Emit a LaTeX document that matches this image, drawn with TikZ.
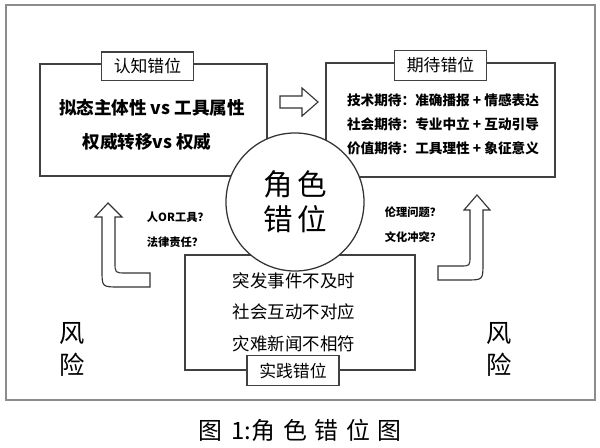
\documentclass[tikz,border=0pt]{standalone}
\usepackage{fontspec}
\setmainfont{Noto Sans CJK SC}
\usetikzlibrary{positioning}
\begin{document}
\begin{tikzpicture}[x=0.025cm,y=-0.025cm,
  box/.style={draw=black!75,line width=0.9pt},
  tag/.style={draw=black!75,line width=0.8pt,fill=white,minimum width=2.3cm,minimum height=0.72cm,inner sep=0pt,font=\fontsize{12}{14}\selectfont},
  blockarrow/.style={draw=black!80,line width=0.8pt,fill=white,line join=miter}]
  \useasboundingbox (0,0) rectangle (600,448);
  % Outer frame
  \draw[black!45,line width=1.2pt] (6,5) rectangle (595,400);
  % Three boxes
  \node[box,minimum width=5.675cm,minimum height=2.8cm] (cogbox) at (153.5,120) {};
  \node[box,minimum width=5.725cm,minimum height=2.85cm] (expbox) at (440.5,120) {};
  \node[box,minimum width=5.75cm,minimum height=2.875cm] (pracbox) at (300,312.5) {};
  % Box texts
  \node[font=\fontsize{12.5}{15}\selectfont\bfseries] (cogone) at (152,108) {拟态主体性 vs 工具属性};
  \node[font=\fontsize{12.5}{15}\selectfont\bfseries] (cogtwo) at (147,142) {权威转移vs 权威};
  \node[align=left,font=\fontsize{9.7}{17}\selectfont\bfseries] (exptext) at (443,124)
    {技术期待：准确播报 + 情感表达\\社会期待：专业中立 + 互动引导\\价值期待：工具理性 + 象征意义};
  \node[align=center,font=\fontsize{12.4}{22.4}\selectfont] (practext) at (294,312)
    {突发事件不及时\\社会互动不对应\\灾难新闻不相符};
  % Centre circle
  \node[draw=black!80,line width=0.9pt,fill=white,circle,minimum size=3.45cm,align=center,
    font=\fontsize{21}{25}\selectfont] (role) at (295,202) {角\,色\\错\,位};
  % Box titles
  \node[tag] (cogtag) at ([xshift=-0.15cm,yshift=-0.075cm]cogbox.north) {认知错位};
  \node[tag,minimum height=0.75cm] (exptag) at ([yshift=-0.075cm]expbox.north) {期待错位};
  \node[tag,minimum height=0.75cm] (practag) at ([xshift=-0.175cm]pracbox.south) {实践错位};
  % Hollow arrow between top boxes
  \draw[blockarrow] (280,96) -- (302,96) -- (302,88) -- (318,102) -- (302,116) -- (302,108) -- (280,108) -- cycle;
  % Bent arrows
  \draw[blockarrow] (102,217) -- (102,270) .. controls (102,287) .. (119,287) -- (150,287) -- (150,273)
    -- (126,273) .. controls (115,273) .. (115,262) -- (115,217) -- (122,217) -- (108,203) -- (95,217) -- cycle;
  \draw[blockarrow] (470,210) -- (470,256) .. controls (470,266) .. (460,266) -- (438,266) -- (438,280)
    -- (466,280) .. controls (483,280) .. (483,263) -- (483,210) -- (490,210) -- (477,195) -- (464,210) -- cycle;
  % Questions
  \node[anchor=west,font=\fontsize{8}{10}\selectfont\bfseries] (qtool) at (142,217) {人OR工具？};
  \node[anchor=west,font=\fontsize{8}{10}\selectfont\bfseries] (qlaw) at (142,242) {法律责任？};
  \node[anchor=west,font=\fontsize{8}{10}\selectfont\bfseries] (qethic) at (380,212) {伦理问题？};
  \node[anchor=west,font=\fontsize{8}{10}\selectfont\bfseries] (qculture) at (380,237) {文化冲突？};
  % Risk labels
  \node[align=center,font=\fontsize{18}{22.7}\selectfont] (riskl) at (72,349) {风\\险};
  \node[align=center,font=\fontsize{18}{22.7}\selectfont] (riskr) at (499,349) {风\\险};
  % Caption
  \node[font=\fontsize{17}{20}\selectfont] (caption) at (300,430)
    {图\hspace{0.4em}1:角\hspace{0.32em}色\hspace{0.32em}错\hspace{0.32em}位\hspace{0.32em}图};
\end{tikzpicture}
\end{document}
